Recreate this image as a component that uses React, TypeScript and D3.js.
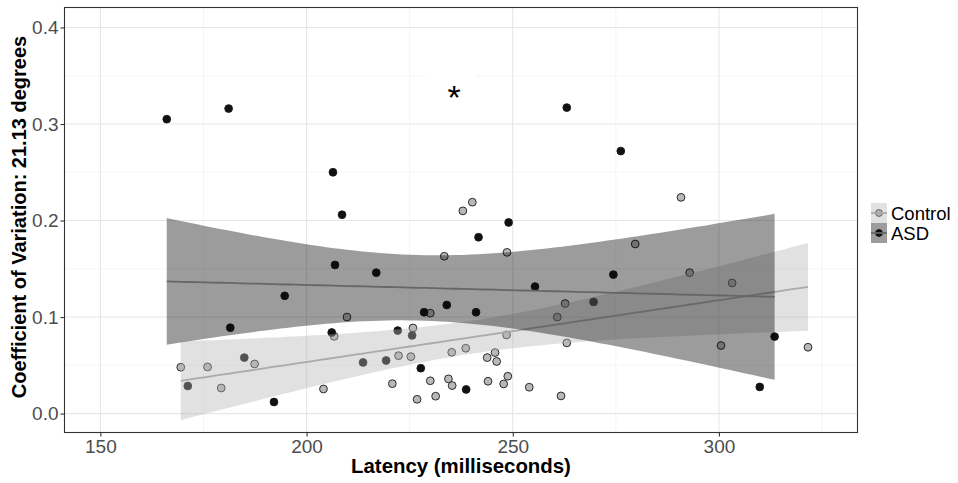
import React, { useEffect, useRef } from "react";
import * as d3 from "d3";

// latency (ms) / coefficient of variation
const controlLatency = [237.9, 240.2, 290.8, 169.5, 176.0, 179.3, 187.4, 204.1, 206.7, 209.8, 220.8, 222.3, 225.3, 225.8, 226.8, 230.0, 230.0, 231.3, 233.4, 234.4, 248.6, 262.7, 260.8, 279.7, 292.9, 303.2, 300.5, 321.6, 248.5, 263.1, 238.6, 235.2, 243.8, 245.7, 246.1, 235.3, 244.0, 247.8, 248.8, 254.0, 261.7];
const controlCV = [0.210, 0.219, 0.224, 0.048, 0.0483, 0.0265, 0.0514, 0.0255, 0.080, 0.100, 0.031, 0.060, 0.059, 0.0887, 0.0148, 0.104, 0.034, 0.018, 0.163, 0.036, 0.167, 0.114, 0.100, 0.1757, 0.146, 0.1353, 0.0705, 0.0687, 0.0815, 0.0732, 0.0677, 0.0635, 0.058, 0.0632, 0.054, 0.029, 0.0335, 0.0307, 0.0387, 0.0273, 0.0183];

const asdLatency = [166.1, 181.1, 206.4, 208.6, 263.1, 276.2, 249.0, 171.2, 181.5, 184.9, 192.1, 194.7, 206.1, 206.9, 213.7, 216.9, 219.3, 222.1, 225.6, 227.7, 228.5, 234.0, 241.7, 241.1, 255.4, 269.6, 274.4, 313.5, 309.9, 238.7];
const asdCV = [0.305, 0.316, 0.250, 0.206, 0.317, 0.272, 0.198, 0.0286, 0.089, 0.058, 0.012, 0.122, 0.084, 0.154, 0.053, 0.146, 0.055, 0.086, 0.081, 0.047, 0.105, 0.1125, 0.1827, 0.105, 0.1316, 0.1157, 0.144, 0.0798, 0.0276, 0.025];

const xTicks = [150, 200, 250, 300];
const yTicks = [0.0, 0.1, 0.2, 0.3, 0.4];

const groups = [
  { name: "Control", x: controlLatency, y: controlCV, fill: "#b8b8b8", line: "#aaaaaa", band: "#b4b4b4", t: 2.023 },
  { name: "ASD", x: asdLatency, y: asdCV, fill: "#111111", line: "#666666", band: "#080808", t: 2.048 },
];

// ordinary least squares fit + 95% confidence band, like geom_smooth(method = "lm")
function lmBand(xs: number[], ys: number[], t: number) {
  const n = xs.length;
  const mx = d3.mean(xs)!;
  const my = d3.mean(ys)!;
  let sxx = 0, sxy = 0;
  xs.forEach((x, i) => { sxx += (x - mx) ** 2; sxy += (x - mx) * (ys[i] - my); });
  const b = sxy / sxx;
  const a = my - b * mx;
  let sse = 0;
  xs.forEach((x, i) => { sse += (ys[i] - a - b * x) ** 2; });
  const s = Math.sqrt(sse / (n - 2));
  const [lo, hi] = d3.extent(xs) as [number, number];
  return d3.range(0, 81).map((k) => {
    const x = lo + ((hi - lo) * k) / 80;
    const fit = a + b * x;
    const se = s * Math.sqrt(1 / n + (x - mx) ** 2 / sxx);
    return { x, fit, lower: fit - t * se, upper: fit + t * se };
  });
}

const App = () => {
  const ref = useRef<SVGSVGElement>(null);

  useEffect(() => {
    const svg = d3.select(ref.current);
    svg.selectAll("*").remove();

    const left = 64.5, right = 857.5, top = 7.5, bottom = 432.5;
    const x = d3.scaleLinear().domain([141.3, 333.6]).range([left, right]);
    const y = d3.scaleLinear().domain([-0.0196, 0.4207]).range([bottom, top]);
    const font = "'Liberation Sans', Arial, Helvetica, sans-serif";

    // grid
    const grid = svg.append("g");
    [175, 225, 275, 325].forEach((v) =>
      grid.append("line").attr("x1", x(v)).attr("x2", x(v)).attr("y1", top).attr("y2", bottom)
        .attr("stroke", "#f0f0f0").attr("stroke-width", 0.7));
    [0.05, 0.15, 0.25, 0.35].forEach((v) =>
      grid.append("line").attr("x1", left).attr("x2", right).attr("y1", y(v)).attr("y2", y(v))
        .attr("stroke", "#f0f0f0").attr("stroke-width", 0.7));
    xTicks.forEach((v) =>
      grid.append("line").attr("x1", x(v)).attr("x2", x(v)).attr("y1", top).attr("y2", bottom)
        .attr("stroke", "#e6e6e6").attr("stroke-width", 1.1));
    yTicks.forEach((v) =>
      grid.append("line").attr("x1", left).attr("x2", right).attr("y1", y(v)).attr("y2", y(v))
        .attr("stroke", "#e6e6e6").attr("stroke-width", 1.1));

    // points (drawn under the smooths)
    groups.forEach((g) => {
      svg.append("g").selectAll("circle").data(g.x).enter().append("circle")
        .attr("cx", (d) => x(d))
        .attr("cy", (_d, i) => y(g.y[i]))
        .attr("r", 3.9)
        .attr("fill", g.fill)
        .attr("stroke", "#1a1a1a")
        .attr("stroke-width", 0.9);
    });

    // smooths
    groups.forEach((g) => {
      const band = lmBand(g.x, g.y, g.t);
      svg.append("path").datum(band)
        .attr("d", d3.area<any>().x((d) => x(d.x)).y0((d) => y(d.lower)).y1((d) => y(d.upper)))
        .attr("fill", g.band).attr("fill-opacity", 0.4);
      svg.append("path").datum(band)
        .attr("d", d3.line<any>().x((d) => x(d.x)).y((d) => y(d.fit)))
        .attr("fill", "none").attr("stroke", g.line).attr("stroke-width", 1.8);
    });

    // significance label
    svg.append("rect").attr("x", 426).attr("y", 71).attr("width", 50).attr("height", 44).attr("fill", "#fff");
    svg.append("text").attr("x", 454).attr("y", 109).attr("text-anchor", "middle")
      .style("font-family", font).style("font-size", "34px").text("*");

    // panel border
    svg.append("rect").attr("x", left).attr("y", top).attr("width", right - left).attr("height", bottom - top)
      .attr("fill", "none").attr("stroke", "#333").attr("stroke-width", 1.1);

    // axes
    const xAxis = svg.append("g").attr("transform", `translate(0,${bottom})`)
      .call(d3.axisBottom(x).tickValues(xTicks).tickSize(4).tickPadding(3).tickFormat(d3.format("d")));
    const yAxis = svg.append("g").attr("transform", `translate(${left},0)`)
      .call(d3.axisLeft(y).tickValues(yTicks).tickSize(4).tickPadding(2).tickFormat(d3.format(".1f")));
    [xAxis, yAxis].forEach((ax) => {
      ax.select(".domain").remove();
      ax.selectAll("line").attr("stroke", "#333").attr("stroke-width", 1.1);
      ax.selectAll("text").attr("fill", "#4d4d4d").style("font-family", font).style("font-size", "19px");
    });

    // axis titles
    svg.append("text").attr("x", (left + right) / 2).attr("y", 473).attr("text-anchor", "middle")
      .style("font-family", font).style("font-size", "20.4px").style("font-weight", "bold")
      .text("Latency (milliseconds)");
    svg.append("text").attr("transform", `translate(25.5,${(top + bottom) / 2 - 3}) rotate(-90)`)
      .attr("text-anchor", "middle")
      .style("font-family", font).style("font-size", "20px").style("font-weight", "bold")
      .text("Coefficient of Variation: 21.13 degrees");

    // legend
    const legend = svg.append("g").attr("transform", "translate(871,203)");
    groups.forEach((g, i) => {
      const k = legend.append("g").attr("transform", `translate(0,${i * 20})`);
      k.append("rect").attr("width", 16).attr("height", 20).attr("fill", "#fff");
      k.append("circle").attr("cx", 8).attr("cy", 10).attr("r", 3.4)
        .attr("fill", g.fill).attr("stroke", "#1a1a1a").attr("stroke-width", 0.9);
      k.append("rect").attr("width", 16).attr("height", 20).attr("fill", g.band).attr("fill-opacity", 0.4);
      k.append("line").attr("x1", 0).attr("x2", 16).attr("y1", 10).attr("y2", 10)
        .attr("stroke", g.line).attr("stroke-width", 1.8);
      k.append("text").attr("x", 20).attr("y", 16.5)
        .style("font-family", font).style("font-size", "18.5px").text(g.name);
    });
  }, []);

  return (
    <svg ref={ref} width={958} height={483}
      style={{ position: "absolute", left: 0, top: 0, background: "#fff" }} />
  );
};

export default App;
